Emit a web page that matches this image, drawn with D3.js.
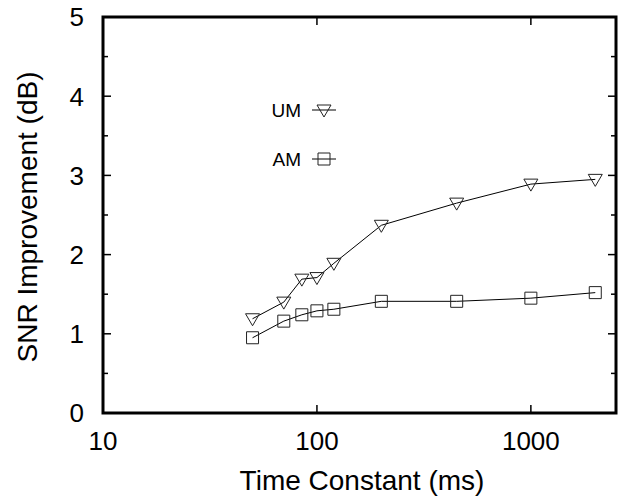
<!DOCTYPE html>
<html>
<head>
<meta charset="UTF-8">
<title>SNR Improvement</title>
<script src="https://d3js.org/d3.v7.min.js"></script>
<style>
body { margin: 0; background: #fff; }
text { font-family: "Liberation Sans", Arial, sans-serif; fill: #000; }
</style>
</head>
<body>
<svg id="chart" width="624" height="500"></svg>
<script>

/* Data */
var timeConst = [50, 70, 85, 100, 120, 200, 450, 1000, 2000]	// ms
var umValues = [1.19, 1.40, 1.69, 1.71, 1.89, 2.37, 2.65, 2.89, 2.95]
var amValues = [0.95, 1.16, 1.24, 1.29, 1.31, 1.41, 1.41, 1.45, 1.52]
var xTicks = [10, 100, 1000]
var yTicks = [0, 1, 2, 3, 4, 5]
var yMinor = [0.5, 1.5, 2.5, 3.5, 4.5]

/* Plot frame (window.top is read-only, so prefix the names) */
var plotLeft = 103, plotRight = 616, plotTop = 17, plotBottom = 413

var svg = d3.select('#chart')

var x = d3.scaleLog().domain([10, 2500]).range([plotLeft, plotRight])
var y = d3.scaleLinear().domain([0, 5]).range([plotBottom, plotTop])

/* Ticks point inward, mirrored on the opposite side like gnuplot */
var g = svg.append('g')
yTicks.concat(yMinor).forEach(function(v) {
	var len = yTicks.indexOf(v) >= 0 ? 8 : 5
	g.append('line').attr('x1', plotLeft).attr('x2', plotLeft + len)
		.attr('y1', y(v)).attr('y2', y(v))
	g.append('line').attr('x1', plotRight).attr('x2', plotRight - len)
		.attr('y1', y(v)).attr('y2', y(v))
})
xTicks.forEach(function(v) {
	g.append('line').attr('x1', x(v)).attr('x2', x(v))
		.attr('y1', plotBottom).attr('y2', plotBottom - 8)
	g.append('line').attr('x1', x(v)).attr('x2', x(v))
		.attr('y1', plotTop).attr('y2', plotTop + 8)
})
g.selectAll('line').attr('stroke', '#000').attr('stroke-width', 1.5)

svg.append('g').selectAll('text')
	.data(yTicks).enter().append('text')
	.attr('x', 84).attr('y', function(d) { return y(d) })
	.attr('dy', '0.36em')
	.attr('text-anchor', 'end')
	.attr('font-size', 26)
	.text(function(d) { return d })

svg.append('g').selectAll('text')
	.data(xTicks).enter().append('text')
	.attr('x', function(d) { return x(d) }).attr('y', 450)
	.attr('text-anchor', 'middle')
	.attr('font-size', 26)
	.text(function(d) { return d })

svg.append('text')
	.attr('x', 362).attr('y', 490)
	.attr('text-anchor', 'middle')
	.attr('font-size', 28)
	.text('Time Constant (ms)')

svg.append('text')
	.attr('transform', 'translate(37,217) rotate(-90)')
	.attr('text-anchor', 'middle')
	.attr('font-size', 28)
	.text('SNR Improvement (dB)')

/* Series */
var line = d3.line()
	.x(function(d) { return x(d[0]) })
	.y(function(d) { return y(d[1]) })

var umData = d3.zip(timeConst, umValues)
var amData = d3.zip(timeConst, amValues)

function triangle(cx, cy) {
	return 'M' + (cx - 7) + ',' + (cy - 5) + 'L' + (cx + 7) + ',' + (cy - 5) +
		'L' + cx + ',' + (cy + 7) + 'Z'
}

function square(cx, cy) {
	return 'M' + (cx - 6) + ',' + (cy - 6) + 'h12v12h-12Z'
}

function draw_series(data, marker) {
	svg.append('path').datum(data)
		.attr('d', line)
		.attr('fill', 'none')
		.attr('stroke', '#000')
		.attr('stroke-width', 1)
	svg.append('g').selectAll('path')
		.data(data).enter().append('path')
		.attr('d', function(d) { return marker(x(d[0]), y(d[1])) })
		.attr('fill', 'none')
		.attr('stroke', '#222')
		.attr('stroke-width', 1)
}

draw_series(umData, triangle)
draw_series(amData, square)

/* Legend */
var legend = [['UM', triangle, 110], ['AM', square, 159]]
legend.forEach(function(l) {
	svg.append('text')
		.attr('x', 301).attr('y', l[2]).attr('dy', '0.36em')
		.attr('text-anchor', 'end')
		.attr('font-size', 19)
		.text(l[0])
	svg.append('line')
		.attr('x1', 312).attr('x2', 336)
		.attr('y1', l[2]).attr('y2', l[2])
		.attr('stroke', '#000').attr('stroke-width', 1)
	svg.append('path')
		.attr('d', l[1](324, l[2]))
		.attr('fill', 'none').attr('stroke', '#222').attr('stroke-width', 1)
})

/* Frame */
svg.append('rect')
	.attr('x', plotLeft).attr('y', plotTop)
	.attr('width', plotRight - plotLeft).attr('height', plotBottom - plotTop)
	.attr('fill', 'none')
	.attr('stroke', '#000')
	.attr('stroke-width', 3)

</script>
</body>
</html>
